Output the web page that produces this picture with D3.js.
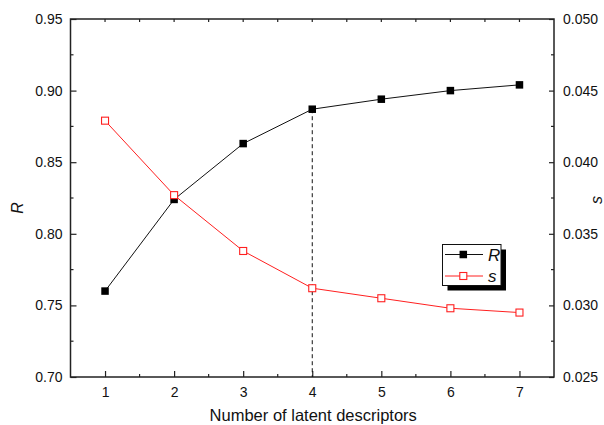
<!DOCTYPE html>
<html>
<head>
<meta charset="utf-8">
<script src="https://cdn.jsdelivr.net/npm/d3@7"></script>
<style>
  html, body { margin: 0; padding: 0; background: #fff; }
  svg { display: block; font-family: "Liberation Sans", Arial, sans-serif; }
</style>
</head>
<body>
<svg id="chart" width="604" height="425"></svg>
<script>
// Number of latent descriptors vs. correlation coefficient R and standard error s
const descriptors = [1, 2, 3, 4, 5, 6, 7];
const rValues = [0.760, 0.824, 0.863, 0.887, 0.894, 0.900, 0.904];
const sValues = [0.0429, 0.0377, 0.0338, 0.0312, 0.0305, 0.0298, 0.0295];
const rTicks = [0.70, 0.75, 0.80, 0.85, 0.90, 0.95];
const sTicks = [0.025, 0.030, 0.035, 0.040, 0.045, 0.050];
const xTicks = [1, 2, 3, 4, 5, 6, 7];
const chosenCount = 4;

const svg = d3.select("#chart");
const margin = { left: 70.5, right: 50, top: 19, bottom: 48 };
const W = 604, H = 425;

const x = d3.scaleLinear().domain([0.5, 7.5]).range([margin.left, W - margin.right]);
const yR = d3.scaleLinear().domain([0.70, 0.95]).range([H - margin.bottom, margin.top]);
const yS = d3.scaleLinear().domain([0.025, 0.050]).range([H - margin.bottom, margin.top]);

const fontTick = 14;
const x0 = x.range()[0], x1 = x.range()[1];
const yb = yR.range()[0], yt = yR.range()[1];

// minor tick positions
const xMinor = d3.range(1.5, 7.5, 1);
const rMinor = d3.range(0.725, 0.95, 0.05);
const sMinor = d3.range(0.0275, 0.050, 0.005);

// bottom axis: inward ticks
const bottom = d3.axisBottom(x).tickValues(xTicks).tickSize(-6).tickPadding(10).tickFormat(d3.format("d"));
const gB = svg.append("g").attr("transform", `translate(0,${yb})`).call(bottom);
gB.selectAll(".tick line").attr("stroke", "#222").attr("stroke-width", 1.2);
gB.selectAll(".tick text").attr("font-size", fontTick).attr("fill", "#111").attr("dy", "0.71em");
gB.select(".domain").remove();
svg.append("g").selectAll("line").data(xMinor).join("line")
  .attr("x1", d => x(d)).attr("x2", d => x(d)).attr("y1", yb).attr("y2", yb - 3)
  .attr("stroke", "#222").attr("stroke-width", 1.2);

// top axis: short inward ticks, no labels
svg.append("g").selectAll("line").data(xTicks.concat(xMinor)).join("line")
  .attr("x1", d => x(d)).attr("x2", d => x(d)).attr("y1", yt).attr("y2", yt + 3)
  .attr("stroke", "#222").attr("stroke-width", 1.2);

// left axis
const left = d3.axisLeft(yR).tickValues(rTicks).tickSize(-6).tickPadding(8).tickFormat(d3.format(".2f"));
const gL = svg.append("g").attr("transform", `translate(${x0},0)`).call(left);
gL.selectAll(".tick line").attr("stroke", "#222").attr("stroke-width", 1.2);
gL.selectAll(".tick text").attr("font-size", fontTick).attr("fill", "#111");
gL.select(".domain").remove();
svg.append("g").selectAll("line").data(rMinor).join("line")
  .attr("x1", x0).attr("x2", x0 + 3).attr("y1", d => yR(d)).attr("y2", d => yR(d))
  .attr("stroke", "#222").attr("stroke-width", 1.2);

// right axis
const right = d3.axisRight(yS).tickValues(sTicks).tickSize(-5).tickPadding(9).tickFormat(d3.format(".3f"));
const gR = svg.append("g").attr("transform", `translate(${x1},0)`).call(right);
gR.selectAll(".tick line").attr("stroke", "#222").attr("stroke-width", 1.2);
gR.selectAll(".tick text").attr("font-size", fontTick).attr("fill", "#111");
gR.select(".domain").remove();
svg.append("g").selectAll("line").data(sMinor).join("line")
  .attr("x1", x1).attr("x2", x1 - 3).attr("y1", d => yS(d)).attr("y2", d => yS(d))
  .attr("stroke", "#222").attr("stroke-width", 1.2);

// frame
svg.append("rect").attr("x", x0).attr("y", yt).attr("width", x1 - x0).attr("height", yb - yt)
  .attr("fill", "none").attr("stroke", "#222").attr("stroke-width", 1.5);

// axis titles
svg.append("text").attr("x", (x0 + x1) / 2 + 1).attr("y", 421)
  .attr("text-anchor", "middle").attr("font-size", 16.5).attr("fill", "#111")
  .text("Number of latent descriptors");
svg.append("text").attr("transform", "translate(23,208) rotate(-90)")
  .attr("text-anchor", "middle").attr("font-size", 16).attr("font-style", "italic").attr("fill", "#111")
  .text("R");
svg.append("text").attr("transform", "translate(601.5,200) rotate(-90)")
  .attr("text-anchor", "middle").attr("font-size", 16).attr("font-style", "italic").attr("fill", "#111")
  .text("s");

// dashed marker at the chosen number of descriptors
const idx = descriptors.indexOf(chosenCount);
svg.append("line")
  .attr("x1", x(chosenCount)).attr("x2", x(chosenCount))
  .attr("y1", yR(rValues[idx])).attr("y2", yb)
  .attr("stroke", "#111").attr("stroke-width", 1).attr("stroke-dasharray", "4,3");

// s series (red, open squares)
const lineS = d3.line().x((d, i) => x(descriptors[i])).y(d => yS(d));
svg.append("path").datum(sValues).attr("d", lineS)
  .attr("fill", "none").attr("stroke", "#ff2020").attr("stroke-width", 1);

// R series (black, filled squares)
const lineR = d3.line().x((d, i) => x(descriptors[i])).y(d => yR(d));
svg.append("path").datum(rValues).attr("d", lineR)
  .attr("fill", "none").attr("stroke", "#111").attr("stroke-width", 1);

const m = 7.5;
svg.append("g").selectAll("rect").data(rValues).join("rect")
  .attr("x", (d, i) => x(descriptors[i]) - m / 2).attr("y", d => yR(d) - m / 2)
  .attr("width", m).attr("height", m).attr("fill", "#000");

svg.append("g").selectAll("rect").data(sValues).join("rect")
  .attr("x", (d, i) => x(descriptors[i]) - 3.5).attr("y", d => yS(d) - 3.5)
  .attr("width", 7).attr("height", 7).attr("fill", "#fff")
  .attr("stroke", "#ff2020").attr("stroke-width", 1.1);

// legend with drop shadow
const lg = svg.append("g");
lg.append("rect").attr("x", 447.5).attr("y", 249.5).attr("width", 58.5).attr("height", 41).attr("fill", "#000");
lg.append("rect").attr("x", 442.5).attr("y", 244.5).attr("width", 58.5).attr("height", 41)
  .attr("fill", "#fff").attr("stroke", "#111").attr("stroke-width", 1);

const legendItems = [
  { label: "R", color: "#111", filled: true, y: 254.5 },
  { label: "s", color: "#ff2020", filled: false, y: 276 }
];
legendItems.forEach(it => {
  lg.append("line").attr("x1", 445).attr("x2", 483).attr("y1", it.y).attr("y2", it.y)
    .attr("stroke", it.color).attr("stroke-width", 1);
  if (it.filled) {
    lg.append("rect").attr("x", 463.3 - m / 2).attr("y", it.y - m / 2).attr("width", m).attr("height", m).attr("fill", "#000");
  } else {
    lg.append("rect").attr("x", 463.3 - 3.5).attr("y", it.y - 3.5).attr("width", 7).attr("height", 7)
      .attr("fill", "#fff").attr("stroke", it.color).attr("stroke-width", 1.1);
  }
  lg.append("text").attr("x", 488).attr("y", it.y + 6).attr("font-size", 17)
    .attr("font-style", "italic").attr("fill", "#111").text(it.label);
});
</script>
</body>
</html>
